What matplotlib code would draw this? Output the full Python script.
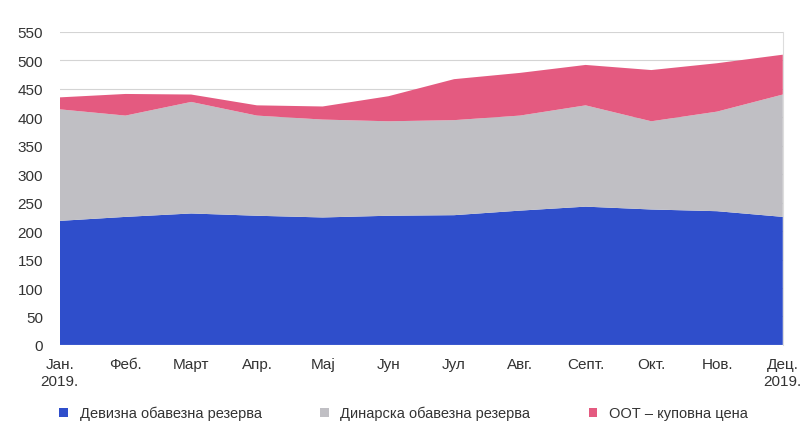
import numpy as np
import matplotlib
matplotlib.use("Agg")
import matplotlib.pyplot as plt

plt.rcParams['font.family'] = ['Liberation Sans', 'DejaVu Sans']

# data (bn dinars)
months = ["Јан.\n2019.", "Феб.", "Март", "Апр.", "Мај", "Јун", "Јул",
          "Авг.", "Септ.", "Окт.", "Нов.", "Дец.\n2019."]
fx_reserve = [218, 225, 231, 227, 224, 227, 228, 236, 243, 238, 235, 225]
din_reserve = [196, 178, 196, 176, 172, 166, 167, 167, 178, 155, 175, 215]
repo = [21, 38, 13, 18, 23, 44, 72, 75, 71, 90, 85, 70]
labels = ["Девизна обавезна резерва", "Динарска обавезна резерва",
          "ООТ – куповна цена"]
colors = ["#2F4ECB", "#C0BFC4", "#E45A80"]

fig = plt.figure(figsize=(8.07, 4.39), dpi=100)
ax = fig.add_axes([0.074, 0.212, 0.896, 0.713])

x = np.arange(len(months))
ax.stackplot(x, fx_reserve, din_reserve, repo, colors=colors,
             labels=labels, zorder=2)

ax.set_xlim(0, len(months) - 1)
ax.set_ylim(0, 550)
ax.set_yticks(np.arange(0, 551, 50))
ax.set_xticks(x)
ax.set_xticklabels(months)
ax.grid(axis='y', color='#d4d4d4', linewidth=0.8, zorder=0)
ax.set_axisbelow(True)

for side in ['left', 'top', 'bottom']:
    ax.spines[side].set_visible(False)
ax.spines['right'].set_color('#dddddd')
ax.tick_params(axis='both', length=0, labelsize=11, colors='#333333')
ax.tick_params(axis='y', pad=12)
ax.tick_params(axis='x', pad=9)

fig.legend(loc='lower center', bbox_to_anchor=(0.5, 0.01), ncol=3,
           frameon=False, fontsize=10.5, handlelength=0.6, handleheight=0.6,
           columnspacing=4, labelcolor='#333333')

fig.savefig("out.png", dpi=100)
